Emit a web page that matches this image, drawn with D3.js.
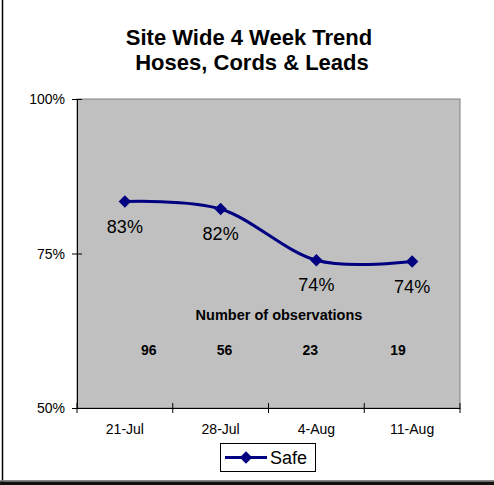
<!DOCTYPE html>
<html><head><meta charset="utf-8">
<script src="https://cdn.jsdelivr.net/npm/d3@7"></script>
<style>
body{margin:0;background:#fff;}
svg{display:block;font-family:Arial,"Liberation Sans",sans-serif;}
</style></head>
<body>
<svg id="c" width="494" height="485"></svg>
<script>
const categories = ["21-Jul","28-Jul","4-Aug","11-Aug"];
const safeValues = [0.834, 0.822, 0.739, 0.737];
const safeLabels = ["83%","82%","74%","74%"];
const observations = [96, 56, 23, 19];
const yTicks = [0.5, 0.75, 1.0];
const titleLines = ["Site Wide 4 Week Trend", "Hoses, Cords & Leads"];
const obsTitle = "Number of observations";
const seriesName = "Safe";

const svg = d3.select("#c");
const W = 494, H = 485;
const m = {left:77, right:460, top:99, bottom:408};
const navy = "#000080";
const FONT = "Arial,'Liberation Sans',sans-serif";

// outer frame
svg.append("line").attr("x1",2.5).attr("x2",2.5).attr("y1",0).attr("y2",482).attr("stroke","#000").attr("stroke-width",1.5);
svg.append("rect").attr("x",0).attr("y",480).attr("width",W).attr("height",1.5).attr("fill","#888");
svg.append("rect").attr("x",0).attr("y",481.5).attr("width",W).attr("height",4).attr("fill","#111");

// title
const titleX = [249, 252];
const titleY = [45, 70];
svg.append("g").selectAll("text").data(titleLines).join("text")
  .attr("x",(d,i)=>titleX[i]).attr("y",(d,i)=>titleY[i])
  .attr("text-anchor","middle").attr("font-weight","bold").attr("font-size",22).text(d=>d);

const x = d3.scaleBand().domain(categories).range([m.left,m.right]).padding(0);
const y = d3.scaleLinear().domain([0.5,1]).range([m.bottom,m.top]);
const cx = d => x(d)+x.bandwidth()/2;

// plot area
svg.append("rect").attr("x",m.left).attr("y",m.top).attr("width",m.right-m.left).attr("height",m.bottom-m.top)
  .attr("fill","#c0c0c0").attr("stroke","#808080").attr("stroke-width",1);

// y axis
const yAxis = svg.append("g").attr("transform",`translate(${m.left},0)`)
  .call(d3.axisLeft(y).tickValues(yTicks).tickFormat(d3.format(".0%")).tickSizeInner(5).tickSizeOuter(0).tickPadding(7));
yAxis.select(".domain").attr("stroke","#000");
yAxis.selectAll(".tick line").attr("x1",-5).attr("x2",5).attr("stroke","#000");
yAxis.selectAll("text").attr("font-size",14).attr("font-family",FONT).attr("fill","#000").attr("dy","0.35em");

// x axis
const xAxis = svg.append("g").attr("transform",`translate(0,${m.bottom})`)
  .call(d3.axisBottom(x).tickSize(0).tickPadding(0));
xAxis.select(".domain").attr("stroke","#000");
xAxis.selectAll("text").attr("font-size",14).attr("font-family",FONT).attr("fill","#000").attr("dy",null).attr("y",26);
// boundary tick marks (cross)
const bounds = categories.map(c=>x(c)).concat([m.right]);
svg.append("g").selectAll("line").data(bounds).join("line")
  .attr("x1",d=>d).attr("x2",d=>d).attr("y1",m.bottom-5).attr("y2",m.bottom+5).attr("stroke","#000");

// line
const line = d3.line().x((d,i)=>cx(categories[i])).y(d=>y(d)).curve(d3.curveCardinal.tension(0));
svg.append("path").datum(safeValues).attr("d",line).attr("fill","none").attr("stroke",navy).attr("stroke-width",3);

const diamond = d3.symbol().type(d3.symbolDiamond2).size(100);
svg.append("g").selectAll("path").data(safeValues).join("path")
  .attr("d",diamond).attr("transform",(d,i)=>`translate(${cx(categories[i])},${y(d)})`).attr("fill",navy);

// data labels
svg.append("g").selectAll("text").data(safeValues).join("text")
  .attr("x",(d,i)=>cx(categories[i])).attr("y",d=>y(d)+31)
  .attr("text-anchor","middle").attr("font-size",18).attr("fill","#000")
  .text((d,i)=>safeLabels[i]);

// observations
svg.append("text").attr("x",279).attr("y",320).attr("text-anchor","middle").attr("font-weight","bold").attr("font-size",14.5).text(obsTitle);
const obsOffsets = [24, 4, -6, -14];
svg.append("g").selectAll("text").data(observations).join("text")
  .attr("x",(d,i)=>cx(categories[i])+obsOffsets[i]).attr("y",355)
  .attr("text-anchor","middle").attr("font-weight","bold").attr("font-size",14).text(d=>d);

// legend
const lg = svg.append("g");
lg.append("rect").attr("x",220.5).attr("y",443.5).attr("width",95).attr("height",28).attr("fill","#fff").attr("stroke","#000");
lg.append("line").attr("x1",225).attr("x2",267).attr("y1",457.5).attr("y2",457.5).attr("stroke",navy).attr("stroke-width",3);
lg.append("path").attr("d",diamond).attr("transform","translate(246,457.5)").attr("fill",navy);
lg.append("text").attr("x",270).attr("y",464).attr("font-size",18).text(seriesName);
</script>
</body></html>
